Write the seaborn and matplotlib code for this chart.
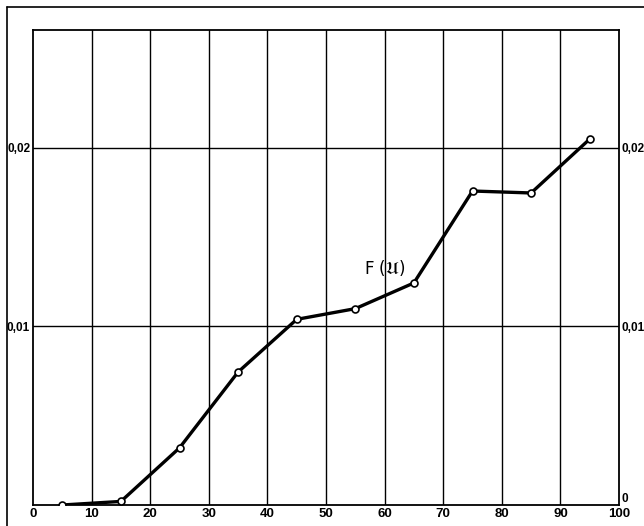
import matplotlib
matplotlib.use("Agg")
import matplotlib.pyplot as plt
from matplotlib.lines import Line2D
import seaborn as sns
import pandas as pd

# Distribution function F(U) sampled at class midpoints
u_mid = [5, 15, 25, 35, 45, 55, 65, 75, 85, 95]
f_val = [0.0, 0.0002, 0.0032, 0.00745, 0.0104, 0.0110, 0.01244, 0.01759, 0.01748, 0.0205]

x_ticks = [0, 10, 20, 30, 40, 50, 60, 70, 80, 90, 100]
y_ticks = [0.01, 0.02]
y_tick_labels = ["0,01", "0,02"]
right_ticks = [0.0, 0.01, 0.02]
right_tick_labels = ["0", "0,01", "0,02"]

df = pd.DataFrame({"u": u_mid, "F": f_val})

sns.set_theme(style="white")
plt.rcParams["font.family"] = ["Liberation Sans", "DejaVu Sans"]

fig = plt.figure(figsize=(6.44, 5.26), dpi=100)
ax = fig.add_axes([33 / 644, 21 / 526, 586 / 644, 475 / 526])

sns.lineplot(data=df, x="u", y="F", ax=ax, color="black", linewidth=2.4,
             marker="o", markersize=5, markerfacecolor="white",
             markeredgecolor="black", markeredgewidth=1.2, zorder=3)

ax.set_xlim(0, 100)
ax.set_ylim(0, 0.02661)
ax.set_xticks(x_ticks)
ax.set_xticklabels([str(t) for t in x_ticks], fontweight="bold", fontsize=9.5)
ax.set_yticks(y_ticks)
ax.set_yticklabels(y_tick_labels, fontweight="bold", fontsize=8.5)
ax.tick_params(axis="both", length=0, pad=2, colors="black")
ax.set_xlabel("")
ax.set_ylabel("")

for t in x_ticks[1:-1]:
    ax.axvline(t, color="black", linewidth=1.0, zorder=1)
for t in y_ticks:
    ax.axhline(t, color="black", linewidth=1.0, zorder=1)

for s in ax.spines.values():
    s.set_visible(True)
    s.set_color("black")
    s.set_linewidth(1.3)

# Value scale repeated on the right-hand side
ax2 = ax.twinx()
ax2.set_ylim(ax.get_ylim())
ax2.set_yticks(right_ticks)
ax2.set_yticklabels(right_tick_labels, fontweight="bold", fontsize=8.5)
ax2.tick_params(axis="y", length=0, pad=2, colors="black")
for lbl in ax2.get_yticklabels():
    if lbl.get_text() == "0":
        lbl.set_y(0.0006)
        lbl.set_verticalalignment("bottom")
ax2.grid(False)
for s in ax2.spines.values():
    s.set_visible(False)

ax.text(63.5, 0.01325, r"F ($\mathfrak{U}$)", fontsize=12, color="black",
        ha="right", va="center", family="DejaVu Sans")

# Outer drawing frame
fig.add_artist(Line2D([7 / 644, 7 / 644], [0.0, 1 - 7 / 526], color="black",
                      linewidth=1.2, transform=fig.transFigure))
fig.add_artist(Line2D([7 / 644, 1.0], [1 - 7 / 526, 1 - 7 / 526], color="black",
                      linewidth=1.2, transform=fig.transFigure))

fig.savefig("out.png", dpi=100, facecolor="white")
